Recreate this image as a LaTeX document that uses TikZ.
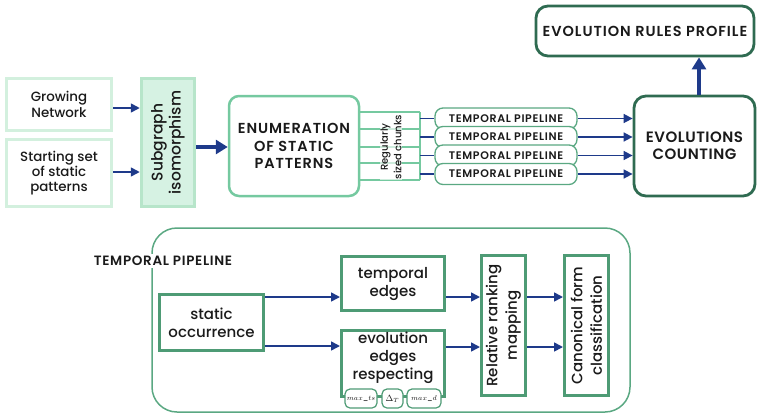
\documentclass[tikz,border=0pt]{standalone}
\usepackage{fontspec}
\setmainfont{Poppins Medium}[BoldFont={Poppins SemiBold}]
\usetikzlibrary{arrows.meta,calc}

\definecolor{mintline}{HTML}{D3F0DE}
\definecolor{mintfill}{HTML}{D6F2E3}
\definecolor{mintedge}{HTML}{B7E5CA}
\definecolor{enumgreen}{HTML}{75C9A0}
\definecolor{pillgreen}{HTML}{5AA882}
\definecolor{stepgreen}{HTML}{4E9B75}
\definecolor{darkgreen}{HTML}{2F6B51}
\definecolor{arrowblue}{HTML}{1E3A8A}
\definecolor{ink}{HTML}{1A1A1A}

% size / leading
\newcommand{\fs}[2]{\fontsize{#1}{#2}\selectfont}
% bold capitals with extra tracking: size / leading / letter space
\newcommand{\capsfont}[3]{\fontsize{#1}{#2}\selectfont\bfseries\addfontfeature{LetterSpace=#3}}

\tikzset{
  every node/.style={text=ink, align=center, inner sep=0pt},
  inputbox/.style={draw=mintline, line width=3pt, fill=white},
  isobox/.style={draw=mintedge, fill=mintfill, line width=3.5pt},
  enumbox/.style={draw=enumgreen, line width=2.5pt, rounded corners=10pt, fill=white},
  pipebox/.style={draw=pillgreen, line width=1.3pt, rounded corners=8pt, fill=white},
  outbox/.style={draw=darkgreen, line width=2.8pt, rounded corners=12pt, fill=white},
  stepbox/.style={draw=stepgreen, line width=3pt, fill=white},
  parambox/.style={draw=stepgreen, line width=1.2pt, rounded corners=5pt, fill=white},
  chunkline/.style={draw=enumgreen, line width=2pt},
  flow/.style={draw=arrowblue, line width=1.6pt, -{Triangle[length=9pt,width=9pt]}},
  bigflow/.style={draw=arrowblue, line width=3.5pt, -{Triangle[length=12pt,width=14pt]}},
  stub/.style={draw=arrowblue, line width=1.6pt},
}

\begin{document}
\begin{tikzpicture}[x=1pt,y=-1pt]
\useasboundingbox (0,0) rectangle (758,413);

% ---------- top row: inputs and subgraph isomorphism ----------
\node[inputbox, minimum width=105, minimum height=52, font=\fs{13.4}{15.3}] (grow) at (59,104.5)
  {Growing\\Network};
\node[inputbox, minimum width=105, minimum height=67, font=\fs{13.4}{15.3}] (start) at (59,173)
  {Starting set\\of static\\patterns};
\node[isobox, minimum width=53, minimum height=128] (iso) at (168,142.5) {};
\node[rotate=90, font=\fs{15.5}{18}] at (iso) {Subgraph\\isomorphism};

\draw[flow] (grow.east |- 0,108) -- (iso.west |- 0,108);
\draw[flow] (start.east |- 0,172) -- (iso.west |- 0,172);

% ---------- enumeration and chunking ----------
\node[enumbox, minimum width=130, minimum height=100, font=\capsfont{14.5}{17.5}{6}] (enum) at (294,146)
  {ENUMERATION\\OF STATIC\\PATTERNS};
\draw[bigflow] (iso.east |- 0,147) -- (enum.west |- 0,147);

\coordinate (bustop) at (420,112);
\coordinate (busbot) at (420,180);
\foreach \yy in {112,129,147,163,180}
  \draw[chunkline] (enum.east |- 0,\yy) -- (bustop |- 0,\yy);
\draw[chunkline] (bustop) -- (busbot);
\node[rotate=90, fill=white, fill opacity=0.65, text opacity=1, inner sep=1pt,
      font=\fs{10}{13.5}] (chunks) at (391,147)
  {Regularly\\sized chunks};

% ---------- parallel temporal pipelines ----------
\foreach \i/\yy in {1/118.5,2/137,3/155.5,4/174}{
  \node[pipebox, minimum width=142, minimum height=21, font=\capsfont{11}{12}{6}] (p\i) at (506,\yy)
    {TEMPORAL PIPELINE};
}

\node[outbox, minimum width=121, minimum height=100, font=\capsfont{15}{17}{3.5}] (count) at (694.5,146)
  {EVOLUTIONS\\COUNTING};
\node[outbox, minimum width=218, minimum height=50, font=\capsfont{14.5}{16}{6.5}] (profile) at (645,31)
  {EVOLUTION RULES PROFILE};

\foreach \i in {1,...,4}{
  \draw[stub] (bustop |- p\i.west) -- (p\i.west);
  \draw[flow] (p\i.east) -- (p\i.east -| count.west);
}
\draw[bigflow] ([xshift=4.5pt]count.north) -- ([xshift=4.5pt]count.north |- profile.south);

% ---------- detail of one temporal pipeline ----------
\node[draw=pillgreen, line width=1.5pt, rounded corners=25pt,
      minimum width=478, minimum height=184] (pipe) at (391,320) {};
\node[fill=white, inner sep=2pt, font=\capsfont{13.5}{15}{5}] (pipelabel) at (163,261)
  {TEMPORAL PIPELINE};

\node[stepbox, minimum width=104, minimum height=56, font=\fs{15}{18}] (static) at (211.5,322.5)
  {static\\occurrence};
\node[stepbox, minimum width=103, minimum height=54, font=\fs{15}{18}] (tedge) at (393,283.5)
  {temporal\\edges};
\node[stepbox, minimum width=103, minimum height=66] (eedge) at (393,363.5) {};
\node[font=\fs{15}{18}] at (393,358) {evolution\\edges\\respecting};

\node[stepbox, minimum width=44, minimum height=140] (rank) at (503.5,325.5) {};
\node[rotate=90, font=\fs{15}{19.5}] at (rank) {Relative ranking\\mapping};
\node[stepbox, minimum width=44, minimum height=140] (canon) at (586.5,325.5) {};
\node[rotate=90, font=\fs{15}{19.5}] at (canon) {Canonical form\\classification};

\node[parambox, minimum width=32, minimum height=19, font=\fs{7}{8}] (mts) at (361,398.5)
  {$max\_ts$};
\node[parambox, minimum width=21, minimum height=19, font=\fs{9}{10}] (dt) at (392.5,398.5)
  {$\Delta_T$};
\node[parambox, minimum width=34, minimum height=19, font=\fs{7}{8}] (mdd) at (424,398.5)
  {$max\_d$};

\draw[flow] (static.east |- 0,297) -- (tedge.west |- 0,297);
\draw[flow] (static.east |- 0,346) -- (eedge.west |- 0,346);
\draw[flow] (tedge.east |- 0,297) -- (rank.west |- 0,297);
\draw[flow] (eedge.east |- 0,347) -- (rank.west |- 0,347);
\draw[flow] (rank.east |- 0,297) -- (canon.west |- 0,297);
\draw[flow] (rank.east |- 0,347) -- (canon.west |- 0,347);
\end{tikzpicture}
\end{document}
